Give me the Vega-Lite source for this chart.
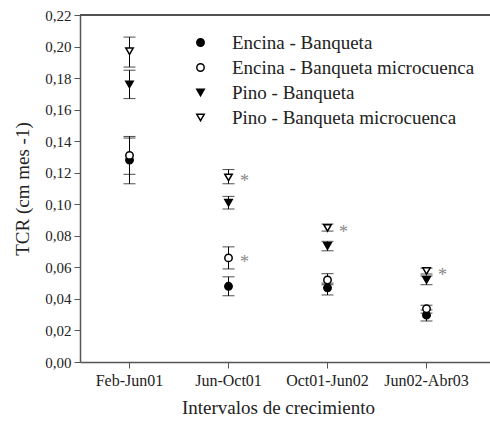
{
  "$schema": "https://vega.github.io/schema/vega-lite/v6.json",
  "width": 410,
  "height": 347,
  "autosize": {"type": "none"},
  "padding": {"left": 80, "top": 15, "right": 0, "bottom": 63},
  "background": "white",
  "config": {
    "view": {"stroke": null},
    "font": "Times New Roman, Liberation Serif, serif",
    "axis": {"domainColor": "#555", "tickColor": "#555", "labelColor": "#222", "titleColor": "#222", "grid": false, "labelFont": "Times New Roman, Liberation Serif, serif", "titleFont": "Times New Roman, Liberation Serif, serif", "titleFontWeight": "normal"},
    "axisY": {"labelOverlap": false, "tickCount": 12},
    "legend": {"labelFont": "Times New Roman, Liberation Serif, serif", "labelFontSize": 19, "labelColor": "#222", "labelLimit": 0},
    "text": {"font": "Times New Roman, Liberation Serif, serif"}
  },
  "data": {
    "values": [
      {"interval": "Feb-Jun01", "group": "Encina - Banqueta", "mean": 0.128, "lo": 0.113, "hi": 0.142, "sig": ""},
      {"interval": "Feb-Jun01", "group": "Encina - Banqueta microcuenca", "mean": 0.131, "lo": 0.119, "hi": 0.143, "sig": ""},
      {"interval": "Feb-Jun01", "group": "Pino - Banqueta", "mean": 0.176, "lo": 0.167, "hi": 0.185, "sig": ""},
      {"interval": "Feb-Jun01", "group": "Pino - Banqueta microcuenca", "mean": 0.197, "lo": 0.187, "hi": 0.206, "sig": ""},
      {"interval": "Jun-Oct01", "group": "Encina - Banqueta", "mean": 0.048, "lo": 0.042, "hi": 0.054, "sig": ""},
      {"interval": "Jun-Oct01", "group": "Encina - Banqueta microcuenca", "mean": 0.066, "lo": 0.059, "hi": 0.073, "sig": "*"},
      {"interval": "Jun-Oct01", "group": "Pino - Banqueta", "mean": 0.101, "lo": 0.097, "hi": 0.105, "sig": ""},
      {"interval": "Jun-Oct01", "group": "Pino - Banqueta microcuenca", "mean": 0.117, "lo": 0.113, "hi": 0.122, "sig": "*"},
      {"interval": "Oct01-Jun02", "group": "Encina - Banqueta", "mean": 0.047, "lo": 0.0425, "hi": 0.05, "sig": ""},
      {"interval": "Oct01-Jun02", "group": "Encina - Banqueta microcuenca", "mean": 0.052, "lo": 0.049, "hi": 0.056, "sig": ""},
      {"interval": "Oct01-Jun02", "group": "Pino - Banqueta", "mean": 0.0735, "lo": 0.0705, "hi": 0.0765, "sig": ""},
      {"interval": "Oct01-Jun02", "group": "Pino - Banqueta microcuenca", "mean": 0.085, "lo": 0.083, "hi": 0.0875, "sig": "*"},
      {"interval": "Jun02-Abr03", "group": "Encina - Banqueta", "mean": 0.0297, "lo": 0.026, "hi": 0.033, "sig": ""},
      {"interval": "Jun02-Abr03", "group": "Encina - Banqueta microcuenca", "mean": 0.0338, "lo": 0.031, "hi": 0.036, "sig": ""},
      {"interval": "Jun02-Abr03", "group": "Pino - Banqueta", "mean": 0.052, "lo": 0.049, "hi": 0.0546, "sig": ""},
      {"interval": "Jun02-Abr03", "group": "Pino - Banqueta microcuenca", "mean": 0.0577, "lo": 0.0558, "hi": 0.0595, "sig": "*"}
    ]
  },
  "layer": [
    {
      "mark": {"type": "rule", "color": "#555", "strokeWidth": 1.5},
      "encoding": {"y": {"datum": 0.22, "type": "quantitative", "scale": {"domain": [0, 0.22], "nice": false},
          "axis": {"title": "TCR (cm mes -1)", "titleFontSize": 19, "titlePadding": 12, "labelFontSize": 15, "labelOverlap": false, "tickCount": 12, "values": [0, 0.02, 0.04, 0.06, 0.08, 0.1, 0.12, 0.14, 0.16, 0.18, 0.2, 0.22], "labelExpr": "replace(format(datum.value, '.2f'), '.', ',')", "tickSize": 6, "labelPadding": 3, "domainWidth": 1.5}}}
    },
    {
      "mark": {"type": "rule", "color": "black", "strokeWidth": 1},
      "encoding": {
        "x": {"field": "interval", "type": "ordinal", "sort": ["Feb-Jun01", "Jun-Oct01", "Oct01-Jun02", "Jun02-Abr03"], "scale": {"type": "band", "paddingInner": 0, "paddingOuter": 0.0707, "align": 0},
          "axis": {"title": "Intervalos de crecimiento", "titleFontSize": 19, "titlePadding": 10, "titleX": 198, "labelFontSize": 16, "labelAngle": 0, "labelPadding": 4, "tickSize": 6, "domainWidth": 1.5, "bandPosition": 0.5}},
        "y": {"field": "lo", "type": "quantitative"},
        "y2": {"field": "hi"}
      }
    },
    {
      "mark": {"type": "tick", "color": "black", "size": 12, "thickness": 1},
      "encoding": {
        "x": {"field": "interval", "type": "ordinal", "sort": ["Feb-Jun01", "Jun-Oct01", "Oct01-Jun02", "Jun02-Abr03"]},
        "y": {"field": "lo", "type": "quantitative"}
      }
    },
    {
      "mark": {"type": "tick", "color": "black", "size": 12, "thickness": 1},
      "encoding": {
        "x": {"field": "interval", "type": "ordinal", "sort": ["Feb-Jun01", "Jun-Oct01", "Oct01-Jun02", "Jun02-Abr03"]},
        "y": {"field": "hi", "type": "quantitative"}
      }
    },
    {
      "mark": {"type": "point", "filled": true, "stroke": "black", "strokeWidth": 1.5, "size": 55, "opacity": 1},
      "encoding": {
        "x": {"field": "interval", "type": "ordinal", "sort": ["Feb-Jun01", "Jun-Oct01", "Oct01-Jun02", "Jun02-Abr03"]},
        "y": {"field": "mean", "type": "quantitative"},
        "fill": {"field": "group", "type": "nominal",
          "scale": {"domain": ["Encina - Banqueta", "Encina - Banqueta microcuenca", "Pino - Banqueta", "Pino - Banqueta microcuenca"], "range": ["black", "white", "black", "white"]},
          "legend": {"title": null, "orient": "none", "legendX": 111, "legendY": 18, "labelFont": "Times New Roman, Liberation Serif, serif", "labelFontSize": 19, "labelColor": "#222", "labelLimit": 0, "symbolSize": 55, "rowPadding": 5, "labelOffset": 22, "padding": 0,
            "encode": {"symbols": {"update": {"stroke": {"value": "black"}, "strokeWidth": {"value": 1.5}}}}}},
        "shape": {"field": "group", "type": "nominal",
          "scale": {"domain": ["Encina - Banqueta", "Encina - Banqueta microcuenca", "Pino - Banqueta", "Pino - Banqueta microcuenca"], "range": ["circle", "circle", "triangle-down", "triangle-down"]},
          "legend": {"title": null, "orient": "none", "legendX": 111, "legendY": 18, "labelFont": "Times New Roman, Liberation Serif, serif", "labelFontSize": 19, "labelColor": "#222", "labelLimit": 0, "symbolSize": 55, "rowPadding": 5, "labelOffset": 22, "padding": 0,
            "encode": {"symbols": {"update": {"stroke": {"value": "black"}, "strokeWidth": {"value": 1.5}}}}}}
      }
    },
    {
      "transform": [{"filter": "datum.sig == '*'"}],
      "mark": {"type": "text", "color": "#888", "fontSize": 18, "dx": 16, "dy": 5, "baseline": "middle", "align": "center"},
      "encoding": {
        "x": {"field": "interval", "type": "ordinal", "sort": ["Feb-Jun01", "Jun-Oct01", "Oct01-Jun02", "Jun02-Abr03"]},
        "y": {"field": "mean", "type": "quantitative"},
        "text": {"field": "sig"}
      }
    }
  ]
}
